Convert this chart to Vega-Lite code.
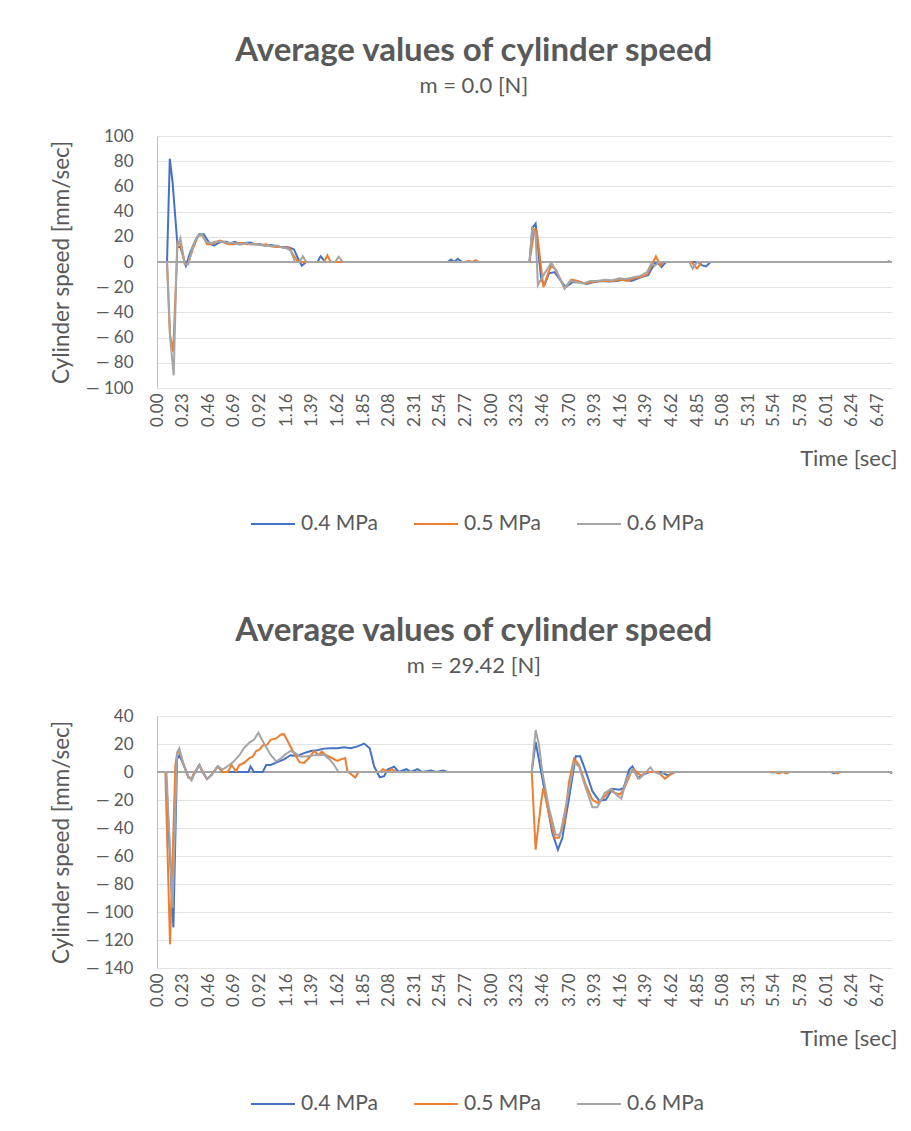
{
  "$schema": "https://vega.github.io/schema/vega-lite/v6.json",
  "background": "white",
  "padding": {"left": 50, "top": 35, "right": 14, "bottom": 0},
  "spacing": 81,
  "resolve": {"scale": {"color": "independent"}, "legend": {"color": "independent"}},
  "config": {
    "font": "Lato",
    "view": {"stroke": null},
    "axis": {"labelColor": "#595959", "titleColor": "#595959", "gridColor": "#e3e3e3", "labelFont": "Lato", "titleFont": "Lato", "titleFontWeight": "normal"},
    "axisY": {"labelOverlap": false},
    "legend": {"labelFont": "Lato"}
  },
  "datasets": {
    "p1": [
      {"s":"0.4 MPa","t":0,"v":0},{"s":"0.4 MPa","t":0.09,"v":0},{"s":"0.4 MPa","t":0.115,"v":82},{"s":"0.4 MPa","t":0.14,"v":63},{"s":"0.4 MPa","t":0.185,"v":12},{"s":"0.4 MPa","t":0.21,"v":12},{"s":"0.4 MPa","t":0.26,"v":-3},{"s":"0.4 MPa","t":0.3,"v":8},{"s":"0.4 MPa","t":0.35,"v":18},{"s":"0.4 MPa","t":0.38,"v":22},{"s":"0.4 MPa","t":0.42,"v":22},{"s":"0.4 MPa","t":0.47,"v":15},{"s":"0.4 MPa","t":0.51,"v":13},{"s":"0.4 MPa","t":0.55,"v":15},{"s":"0.4 MPa","t":0.58,"v":16},{"s":"0.4 MPa","t":0.62,"v":16},{"s":"0.4 MPa","t":0.66,"v":15},{"s":"0.4 MPa","t":0.7,"v":16},{"s":"0.4 MPa","t":0.74,"v":14},{"s":"0.4 MPa","t":0.79,"v":15},{"s":"0.4 MPa","t":0.84,"v":15.5},{"s":"0.4 MPa","t":0.88,"v":14},{"s":"0.4 MPa","t":0.93,"v":14},{"s":"0.4 MPa","t":0.97,"v":13},{"s":"0.4 MPa","t":1.02,"v":13.5},{"s":"0.4 MPa","t":1.06,"v":13},{"s":"0.4 MPa","t":1.1,"v":12},{"s":"0.4 MPa","t":1.15,"v":12},{"s":"0.4 MPa","t":1.19,"v":11.5},{"s":"0.4 MPa","t":1.23,"v":10},{"s":"0.4 MPa","t":1.26,"v":4},{"s":"0.4 MPa","t":1.3,"v":-3},{"s":"0.4 MPa","t":1.34,"v":0},{"s":"0.4 MPa","t":1.44,"v":0},{"s":"0.4 MPa","t":1.47,"v":4.5},{"s":"0.4 MPa","t":1.51,"v":0},{"s":"0.4 MPa","t":2.61,"v":0},{"s":"0.4 MPa","t":2.64,"v":2},{"s":"0.4 MPa","t":2.67,"v":0},{"s":"0.4 MPa","t":2.7,"v":2.5},{"s":"0.4 MPa","t":2.74,"v":0},{"s":"0.4 MPa","t":3.345,"v":0},{"s":"0.4 MPa","t":3.37,"v":27},{"s":"0.4 MPa","t":3.4,"v":30.5},{"s":"0.4 MPa","t":3.45,"v":-14},{"s":"0.4 MPa","t":3.48,"v":-18},{"s":"0.4 MPa","t":3.52,"v":-9},{"s":"0.4 MPa","t":3.57,"v":-8},{"s":"0.4 MPa","t":3.61,"v":-13},{"s":"0.4 MPa","t":3.67,"v":-20},{"s":"0.4 MPa","t":3.73,"v":-16},{"s":"0.4 MPa","t":3.8,"v":-16},{"s":"0.4 MPa","t":3.86,"v":-17.5},{"s":"0.4 MPa","t":3.92,"v":-16},{"s":"0.4 MPa","t":3.99,"v":-15},{"s":"0.4 MPa","t":4.06,"v":-15.5},{"s":"0.4 MPa","t":4.13,"v":-15},{"s":"0.4 MPa","t":4.19,"v":-14},{"s":"0.4 MPa","t":4.26,"v":-15},{"s":"0.4 MPa","t":4.35,"v":-12},{"s":"0.4 MPa","t":4.41,"v":-10.5},{"s":"0.4 MPa","t":4.47,"v":-1},{"s":"0.4 MPa","t":4.5,"v":-1},{"s":"0.4 MPa","t":4.53,"v":-4},{"s":"0.4 MPa","t":4.57,"v":0},{"s":"0.4 MPa","t":4.86,"v":0},{"s":"0.4 MPa","t":4.89,"v":-2.5},{"s":"0.4 MPa","t":4.93,"v":-3.5},{"s":"0.4 MPa","t":4.97,"v":0},{"s":"0.4 MPa","t":6.56,"v":0},{"s":"0.4 MPa","t":6.58,"v":0.8},

      {"s":"0.5 MPa","t":0,"v":0},{"s":"0.5 MPa","t":0.09,"v":0},{"s":"0.5 MPa","t":0.115,"v":-57},{"s":"0.5 MPa","t":0.145,"v":-71},{"s":"0.5 MPa","t":0.185,"v":16},{"s":"0.5 MPa","t":0.21,"v":14},{"s":"0.5 MPa","t":0.25,"v":-2},{"s":"0.5 MPa","t":0.28,"v":-1},{"s":"0.5 MPa","t":0.32,"v":10},{"s":"0.5 MPa","t":0.37,"v":21},{"s":"0.5 MPa","t":0.41,"v":21},{"s":"0.5 MPa","t":0.45,"v":14},{"s":"0.5 MPa","t":0.49,"v":14},{"s":"0.5 MPa","t":0.53,"v":16},{"s":"0.5 MPa","t":0.57,"v":17},{"s":"0.5 MPa","t":0.61,"v":15},{"s":"0.5 MPa","t":0.65,"v":14},{"s":"0.5 MPa","t":0.69,"v":14},{"s":"0.5 MPa","t":0.73,"v":15},{"s":"0.5 MPa","t":0.77,"v":15},{"s":"0.5 MPa","t":0.81,"v":14},{"s":"0.5 MPa","t":0.85,"v":14},{"s":"0.5 MPa","t":0.89,"v":14},{"s":"0.5 MPa","t":0.94,"v":13.5},{"s":"0.5 MPa","t":0.98,"v":14},{"s":"0.5 MPa","t":1.02,"v":12.5},{"s":"0.5 MPa","t":1.07,"v":12},{"s":"0.5 MPa","t":1.11,"v":12},{"s":"0.5 MPa","t":1.15,"v":11.5},{"s":"0.5 MPa","t":1.19,"v":11},{"s":"0.5 MPa","t":1.22,"v":6},{"s":"0.5 MPa","t":1.26,"v":1},{"s":"0.5 MPa","t":1.29,"v":0},{"s":"0.5 MPa","t":1.5,"v":0},{"s":"0.5 MPa","t":1.53,"v":5.3},{"s":"0.5 MPa","t":1.56,"v":0},{"s":"0.5 MPa","t":2.77,"v":0},{"s":"0.5 MPa","t":2.8,"v":1},{"s":"0.5 MPa","t":2.83,"v":0},{"s":"0.5 MPa","t":2.86,"v":1.5},{"s":"0.5 MPa","t":2.89,"v":0},{"s":"0.5 MPa","t":3.345,"v":0},{"s":"0.5 MPa","t":3.39,"v":26},{"s":"0.5 MPa","t":3.41,"v":25},{"s":"0.5 MPa","t":3.47,"v":-20},{"s":"0.5 MPa","t":3.5,"v":-12},{"s":"0.5 MPa","t":3.54,"v":-2.6},{"s":"0.5 MPa","t":3.58,"v":-6},{"s":"0.5 MPa","t":3.66,"v":-21},{"s":"0.5 MPa","t":3.72,"v":-14},{"s":"0.5 MPa","t":3.78,"v":-15},{"s":"0.5 MPa","t":3.84,"v":-17},{"s":"0.5 MPa","t":3.9,"v":-16},{"s":"0.5 MPa","t":3.96,"v":-15},{"s":"0.5 MPa","t":4.03,"v":-15},{"s":"0.5 MPa","t":4.1,"v":-15},{"s":"0.5 MPa","t":4.16,"v":-14},{"s":"0.5 MPa","t":4.22,"v":-15},{"s":"0.5 MPa","t":4.28,"v":-13},{"s":"0.5 MPa","t":4.34,"v":-12},{"s":"0.5 MPa","t":4.4,"v":-10},{"s":"0.5 MPa","t":4.445,"v":-2},{"s":"0.5 MPa","t":4.48,"v":4.5},{"s":"0.5 MPa","t":4.52,"v":-2.6},{"s":"0.5 MPa","t":4.55,"v":0},{"s":"0.5 MPa","t":4.8,"v":0},{"s":"0.5 MPa","t":4.85,"v":-5.3},{"s":"0.5 MPa","t":4.89,"v":0},{"s":"0.5 MPa","t":6.6,"v":0},

      {"s":"0.6 MPa","t":0,"v":0},{"s":"0.6 MPa","t":0.09,"v":0},{"s":"0.6 MPa","t":0.12,"v":-62},{"s":"0.6 MPa","t":0.15,"v":-90},{"s":"0.6 MPa","t":0.18,"v":12},{"s":"0.6 MPa","t":0.21,"v":19},{"s":"0.6 MPa","t":0.25,"v":-2},{"s":"0.6 MPa","t":0.28,"v":-2},{"s":"0.6 MPa","t":0.32,"v":12},{"s":"0.6 MPa","t":0.36,"v":20},{"s":"0.6 MPa","t":0.4,"v":22},{"s":"0.6 MPa","t":0.44,"v":16},{"s":"0.6 MPa","t":0.48,"v":15},{"s":"0.6 MPa","t":0.52,"v":16},{"s":"0.6 MPa","t":0.56,"v":16},{"s":"0.6 MPa","t":0.6,"v":16},{"s":"0.6 MPa","t":0.64,"v":15},{"s":"0.6 MPa","t":0.68,"v":15},{"s":"0.6 MPa","t":0.72,"v":14.5},{"s":"0.6 MPa","t":0.76,"v":14},{"s":"0.6 MPa","t":0.8,"v":15},{"s":"0.6 MPa","t":0.84,"v":14},{"s":"0.6 MPa","t":0.88,"v":14},{"s":"0.6 MPa","t":0.92,"v":13.5},{"s":"0.6 MPa","t":0.96,"v":13},{"s":"0.6 MPa","t":1.0,"v":13},{"s":"0.6 MPa","t":1.04,"v":12.5},{"s":"0.6 MPa","t":1.08,"v":13},{"s":"0.6 MPa","t":1.12,"v":11.5},{"s":"0.6 MPa","t":1.16,"v":11},{"s":"0.6 MPa","t":1.2,"v":9},{"s":"0.6 MPa","t":1.24,"v":0},{"s":"0.6 MPa","t":1.28,"v":0},{"s":"0.6 MPa","t":1.31,"v":4.5},{"s":"0.6 MPa","t":1.34,"v":0},{"s":"0.6 MPa","t":1.6,"v":0},{"s":"0.6 MPa","t":1.63,"v":4},{"s":"0.6 MPa","t":1.67,"v":0},{"s":"0.6 MPa","t":3.345,"v":0},{"s":"0.6 MPa","t":3.37,"v":26.6},{"s":"0.6 MPa","t":3.4,"v":22},{"s":"0.6 MPa","t":3.42,"v":-18.5},{"s":"0.6 MPa","t":3.46,"v":-12},{"s":"0.6 MPa","t":3.54,"v":-0.5},{"s":"0.6 MPa","t":3.59,"v":-8},{"s":"0.6 MPa","t":3.66,"v":-21},{"s":"0.6 MPa","t":3.71,"v":-15},{"s":"0.6 MPa","t":3.77,"v":-16},{"s":"0.6 MPa","t":3.83,"v":-17},{"s":"0.6 MPa","t":3.89,"v":-15},{"s":"0.6 MPa","t":3.95,"v":-15},{"s":"0.6 MPa","t":4.02,"v":-14},{"s":"0.6 MPa","t":4.09,"v":-14.5},{"s":"0.6 MPa","t":4.15,"v":-13},{"s":"0.6 MPa","t":4.21,"v":-13.5},{"s":"0.6 MPa","t":4.28,"v":-12},{"s":"0.6 MPa","t":4.34,"v":-11},{"s":"0.6 MPa","t":4.4,"v":-8},{"s":"0.6 MPa","t":4.44,"v":-1},{"s":"0.6 MPa","t":4.47,"v":-3},{"s":"0.6 MPa","t":4.51,"v":0},{"s":"0.6 MPa","t":4.78,"v":0},{"s":"0.6 MPa","t":4.81,"v":-5.3},{"s":"0.6 MPa","t":4.85,"v":0},{"s":"0.6 MPa","t":6.6,"v":0}
    ],
    "p2": [
      {"s":"0.4 MPa","t":0,"v":0},{"s":"0.4 MPa","t":0.08,"v":0},{"s":"0.4 MPa","t":0.147,"v":-111},{"s":"0.4 MPa","t":0.18,"v":9},{"s":"0.4 MPa","t":0.2,"v":12},{"s":"0.4 MPa","t":0.24,"v":5},{"s":"0.4 MPa","t":0.28,"v":-3},{"s":"0.4 MPa","t":0.31,"v":-5.5},{"s":"0.4 MPa","t":0.33,"v":-2},{"s":"0.4 MPa","t":0.38,"v":5},{"s":"0.4 MPa","t":0.41,"v":0},{"s":"0.4 MPa","t":0.45,"v":-5},{"s":"0.4 MPa","t":0.49,"v":-2},{"s":"0.4 MPa","t":0.545,"v":4},{"s":"0.4 MPa","t":0.59,"v":0},{"s":"0.4 MPa","t":0.82,"v":0},{"s":"0.4 MPa","t":0.84,"v":4},{"s":"0.4 MPa","t":0.87,"v":0},{"s":"0.4 MPa","t":0.95,"v":0},{"s":"0.4 MPa","t":0.98,"v":5},{"s":"0.4 MPa","t":1.02,"v":5},{"s":"0.4 MPa","t":1.08,"v":7},{"s":"0.4 MPa","t":1.14,"v":9},{"s":"0.4 MPa","t":1.2,"v":12},{"s":"0.4 MPa","t":1.26,"v":11.5},{"s":"0.4 MPa","t":1.32,"v":13.5},{"s":"0.4 MPa","t":1.38,"v":15},{"s":"0.4 MPa","t":1.44,"v":15.5},{"s":"0.4 MPa","t":1.5,"v":16.7},{"s":"0.4 MPa","t":1.56,"v":17},{"s":"0.4 MPa","t":1.62,"v":17},{"s":"0.4 MPa","t":1.68,"v":17.6},{"s":"0.4 MPa","t":1.74,"v":17},{"s":"0.4 MPa","t":1.8,"v":18.3},{"s":"0.4 MPa","t":1.86,"v":20.3},{"s":"0.4 MPa","t":1.91,"v":17},{"s":"0.4 MPa","t":1.95,"v":4},{"s":"0.4 MPa","t":2.0,"v":-3.8},{"s":"0.4 MPa","t":2.04,"v":-3},{"s":"0.4 MPa","t":2.07,"v":1.7},{"s":"0.4 MPa","t":2.13,"v":3.8},{"s":"0.4 MPa","t":2.17,"v":0},{"s":"0.4 MPa","t":2.24,"v":2},{"s":"0.4 MPa","t":2.28,"v":0},{"s":"0.4 MPa","t":2.34,"v":2},{"s":"0.4 MPa","t":2.38,"v":0},{"s":"0.4 MPa","t":2.46,"v":1},{"s":"0.4 MPa","t":2.51,"v":0},{"s":"0.4 MPa","t":2.57,"v":1},{"s":"0.4 MPa","t":2.61,"v":0},{"s":"0.4 MPa","t":3.365,"v":0},{"s":"0.4 MPa","t":3.4,"v":21.4},{"s":"0.4 MPa","t":3.45,"v":0},{"s":"0.4 MPa","t":3.51,"v":-25.7},{"s":"0.4 MPa","t":3.55,"v":-43.6},{"s":"0.4 MPa","t":3.6,"v":-55.5},{"s":"0.4 MPa","t":3.64,"v":-47},{"s":"0.4 MPa","t":3.7,"v":-18.6},{"s":"0.4 MPa","t":3.76,"v":11.2},{"s":"0.4 MPa","t":3.8,"v":11.2},{"s":"0.4 MPa","t":3.85,"v":0.5},{"s":"0.4 MPa","t":3.91,"v":-13.8},{"s":"0.4 MPa","t":3.97,"v":-20.5},{"s":"0.4 MPa","t":4.03,"v":-19.8},{"s":"0.4 MPa","t":4.09,"v":-12},{"s":"0.4 MPa","t":4.15,"v":-12.6},{"s":"0.4 MPa","t":4.19,"v":-11.5},{"s":"0.4 MPa","t":4.24,"v":1.7},{"s":"0.4 MPa","t":4.27,"v":4},{"s":"0.4 MPa","t":4.32,"v":-4.3},{"s":"0.4 MPa","t":4.36,"v":-2},{"s":"0.4 MPa","t":4.42,"v":0},{"s":"0.4 MPa","t":4.52,"v":0},{"s":"0.4 MPa","t":4.59,"v":-2.4},{"s":"0.4 MPa","t":4.65,"v":0},{"s":"0.4 MPa","t":6.05,"v":0},{"s":"0.4 MPa","t":6.08,"v":-0.8},{"s":"0.4 MPa","t":6.11,"v":0},{"s":"0.4 MPa","t":6.58,"v":0},{"s":"0.4 MPa","t":6.6,"v":-1},

      {"s":"0.5 MPa","t":0,"v":0},{"s":"0.5 MPa","t":0.075,"v":0},{"s":"0.5 MPa","t":0.117,"v":-123},{"s":"0.5 MPa","t":0.165,"v":5},{"s":"0.5 MPa","t":0.18,"v":13},{"s":"0.5 MPa","t":0.2,"v":15},{"s":"0.5 MPa","t":0.24,"v":5},{"s":"0.5 MPa","t":0.28,"v":-4},{"s":"0.5 MPa","t":0.31,"v":-5},{"s":"0.5 MPa","t":0.33,"v":-1},{"s":"0.5 MPa","t":0.38,"v":5},{"s":"0.5 MPa","t":0.41,"v":0},{"s":"0.5 MPa","t":0.45,"v":-5},{"s":"0.5 MPa","t":0.49,"v":-2},{"s":"0.5 MPa","t":0.545,"v":4},{"s":"0.5 MPa","t":0.59,"v":0},{"s":"0.5 MPa","t":0.635,"v":0},{"s":"0.5 MPa","t":0.67,"v":5},{"s":"0.5 MPa","t":0.71,"v":0.5},{"s":"0.5 MPa","t":0.74,"v":5},{"s":"0.5 MPa","t":0.78,"v":6.4},{"s":"0.5 MPa","t":0.83,"v":10},{"s":"0.5 MPa","t":0.86,"v":11},{"s":"0.5 MPa","t":0.89,"v":15},{"s":"0.5 MPa","t":0.92,"v":16},{"s":"0.5 MPa","t":0.95,"v":19},{"s":"0.5 MPa","t":0.99,"v":19.5},{"s":"0.5 MPa","t":1.02,"v":23},{"s":"0.5 MPa","t":1.07,"v":24},{"s":"0.5 MPa","t":1.11,"v":26.7},{"s":"0.5 MPa","t":1.14,"v":27},{"s":"0.5 MPa","t":1.22,"v":15},{"s":"0.5 MPa","t":1.28,"v":7},{"s":"0.5 MPa","t":1.32,"v":6.4},{"s":"0.5 MPa","t":1.37,"v":10.5},{"s":"0.5 MPa","t":1.41,"v":15},{"s":"0.5 MPa","t":1.45,"v":12},{"s":"0.5 MPa","t":1.48,"v":14.5},{"s":"0.5 MPa","t":1.52,"v":12},{"s":"0.5 MPa","t":1.57,"v":10},{"s":"0.5 MPa","t":1.62,"v":8},{"s":"0.5 MPa","t":1.65,"v":9},{"s":"0.5 MPa","t":1.69,"v":10},{"s":"0.5 MPa","t":1.71,"v":0.5},{"s":"0.5 MPa","t":1.78,"v":-4},{"s":"0.5 MPa","t":1.81,"v":0},{"s":"0.5 MPa","t":2.0,"v":0},{"s":"0.5 MPa","t":2.03,"v":2},{"s":"0.5 MPa","t":2.07,"v":0.5},{"s":"0.5 MPa","t":2.11,"v":2},{"s":"0.5 MPa","t":2.15,"v":0},{"s":"0.5 MPa","t":3.365,"v":0},{"s":"0.5 MPa","t":3.4,"v":-55.5},{"s":"0.5 MPa","t":3.45,"v":-21},{"s":"0.5 MPa","t":3.47,"v":-11.4},{"s":"0.5 MPa","t":3.52,"v":-30},{"s":"0.5 MPa","t":3.57,"v":-47},{"s":"0.5 MPa","t":3.61,"v":-47},{"s":"0.5 MPa","t":3.66,"v":-35},{"s":"0.5 MPa","t":3.7,"v":-6.7},{"s":"0.5 MPa","t":3.745,"v":9.5},{"s":"0.5 MPa","t":3.79,"v":5},{"s":"0.5 MPa","t":3.85,"v":-9},{"s":"0.5 MPa","t":3.91,"v":-19.8},{"s":"0.5 MPa","t":3.955,"v":-22},{"s":"0.5 MPa","t":4.01,"v":-18.6},{"s":"0.5 MPa","t":4.07,"v":-12.6},{"s":"0.5 MPa","t":4.11,"v":-15},{"s":"0.5 MPa","t":4.16,"v":-16},{"s":"0.5 MPa","t":4.2,"v":-11},{"s":"0.5 MPa","t":4.26,"v":0.5},{"s":"0.5 MPa","t":4.28,"v":2},{"s":"0.5 MPa","t":4.35,"v":-3},{"s":"0.5 MPa","t":4.39,"v":0},{"s":"0.5 MPa","t":4.5,"v":0},{"s":"0.5 MPa","t":4.56,"v":-4.8},{"s":"0.5 MPa","t":4.6,"v":-2.4},{"s":"0.5 MPa","t":4.65,"v":0},{"s":"0.5 MPa","t":5.55,"v":0},{"s":"0.5 MPa","t":5.58,"v":-1},{"s":"0.5 MPa","t":5.62,"v":0},{"s":"0.5 MPa","t":5.65,"v":-1},{"s":"0.5 MPa","t":5.68,"v":0},{"s":"0.5 MPa","t":6.08,"v":0},{"s":"0.5 MPa","t":6.11,"v":-1},{"s":"0.5 MPa","t":6.14,"v":0},{"s":"0.5 MPa","t":6.58,"v":0},{"s":"0.5 MPa","t":6.6,"v":-0.5},

      {"s":"0.6 MPa","t":0,"v":0},{"s":"0.6 MPa","t":0.085,"v":0},{"s":"0.6 MPa","t":0.14,"v":-97},{"s":"0.6 MPa","t":0.18,"v":14},{"s":"0.6 MPa","t":0.2,"v":17},{"s":"0.6 MPa","t":0.24,"v":5},{"s":"0.6 MPa","t":0.28,"v":-3},{"s":"0.6 MPa","t":0.31,"v":-6},{"s":"0.6 MPa","t":0.33,"v":-2},{"s":"0.6 MPa","t":0.38,"v":5},{"s":"0.6 MPa","t":0.41,"v":0},{"s":"0.6 MPa","t":0.45,"v":-5},{"s":"0.6 MPa","t":0.49,"v":-2},{"s":"0.6 MPa","t":0.545,"v":4},{"s":"0.6 MPa","t":0.59,"v":1.7},{"s":"0.6 MPa","t":0.65,"v":5},{"s":"0.6 MPa","t":0.69,"v":7.6},{"s":"0.6 MPa","t":0.74,"v":12},{"s":"0.6 MPa","t":0.78,"v":17},{"s":"0.6 MPa","t":0.83,"v":21},{"s":"0.6 MPa","t":0.87,"v":23},{"s":"0.6 MPa","t":0.91,"v":28},{"s":"0.6 MPa","t":0.96,"v":20.6},{"s":"0.6 MPa","t":1.02,"v":12.4},{"s":"0.6 MPa","t":1.07,"v":7.6},{"s":"0.6 MPa","t":1.11,"v":9.5},{"s":"0.6 MPa","t":1.15,"v":12.4},{"s":"0.6 MPa","t":1.2,"v":15},{"s":"0.6 MPa","t":1.24,"v":13.6},{"s":"0.6 MPa","t":1.28,"v":11},{"s":"0.6 MPa","t":1.34,"v":11},{"s":"0.6 MPa","t":1.41,"v":12},{"s":"0.6 MPa","t":1.5,"v":12.4},{"s":"0.6 MPa","t":1.55,"v":9},{"s":"0.6 MPa","t":1.59,"v":5},{"s":"0.6 MPa","t":1.63,"v":0},{"s":"0.6 MPa","t":3.365,"v":0},{"s":"0.6 MPa","t":3.4,"v":30},{"s":"0.6 MPa","t":3.43,"v":19.5},{"s":"0.6 MPa","t":3.46,"v":0},{"s":"0.6 MPa","t":3.52,"v":-25.7},{"s":"0.6 MPa","t":3.58,"v":-44.8},{"s":"0.6 MPa","t":3.62,"v":-44.8},{"s":"0.6 MPa","t":3.68,"v":-21},{"s":"0.6 MPa","t":3.745,"v":7},{"s":"0.6 MPa","t":3.79,"v":4},{"s":"0.6 MPa","t":3.85,"v":-11.4},{"s":"0.6 MPa","t":3.91,"v":-25.2},{"s":"0.6 MPa","t":3.955,"v":-25.2},{"s":"0.6 MPa","t":4.02,"v":-15},{"s":"0.6 MPa","t":4.08,"v":-12},{"s":"0.6 MPa","t":4.125,"v":-16.2},{"s":"0.6 MPa","t":4.17,"v":-19},{"s":"0.6 MPa","t":4.22,"v":-4.3},{"s":"0.6 MPa","t":4.27,"v":1.7},{"s":"0.6 MPa","t":4.33,"v":-4.8},{"s":"0.6 MPa","t":4.37,"v":-2},{"s":"0.6 MPa","t":4.43,"v":3.4},{"s":"0.6 MPa","t":4.46,"v":0},{"s":"0.6 MPa","t":4.52,"v":-1.5},{"s":"0.6 MPa","t":4.56,"v":0},{"s":"0.6 MPa","t":5.5,"v":0},{"s":"0.6 MPa","t":5.53,"v":-0.5},{"s":"0.6 MPa","t":5.56,"v":0},{"s":"0.6 MPa","t":6.6,"v":0}
    ]
  },
  "vconcat": [
    {
      "title": {"text": "Average values of cylinder speed", "subtitle": "m = 0.0 [N]", "anchor": "middle", "frame": "bounds", "font": "Lato", "fontSize": 33, "fontWeight": "bold", "color": "#595959", "subtitleFont": "Lato", "subtitleFontSize": 22, "subtitleColor": "#595959", "subtitlePadding": 8, "offset": 30},
      "width": 735,
      "height": 252,
      "data": {"name": "p1"},
      "layer": [
        {"mark": {"type": "rule", "color": "#a6a6a6", "strokeWidth": 1.5}, "encoding": {"y": {"datum": 0, "type": "quantitative", "scale": {"domain": [-100, 100], "nice": false},
              "axis": {"values": [-100,-80,-60,-40,-20,0,20,40,60,80,100], "labelExpr": "datum.value < 0 ? '— ' + (-datum.value) : '' + datum.value", "labelOverlap": false, "labelFontSize": 17, "labelPadding": 24, "ticks": false, "domain": true, "domainColor": "#bfbfbf", "grid": true, "title": "Cylinder speed [mm/sec]", "titleFontSize": 22.5, "titlePadding": 12}}}},
        {
          "mark": {"type": "line", "strokeWidth": 2},
          "encoding": {
            "x": {"field": "t", "type": "quantitative", "scale": {"domain": [0, 6.6], "nice": false},
              "axis": {"values": [0,0.23,0.46,0.69,0.92,1.16,1.39,1.62,1.85,2.08,2.31,2.54,2.77,3.0,3.23,3.46,3.7,3.93,4.16,4.39,4.62,4.85,5.08,5.31,5.54,5.78,6.01,6.24,6.47], "format": ".2f", "labelAngle": -90, "labelFontSize": 17, "labelPadding": 5, "ticks": false, "domain": false, "grid": false, "labelOverlap": false, "title": "Time [sec]", "titleFontSize": 22, "titleX": 740, "titleY": 70, "titleAlign": "right", "titleBaseline": "middle", "titleAnchor": null}},
            "y": {"field": "v", "type": "quantitative", "scale": {"domain": [-100, 100], "nice": false},
              "axis": {"values": [-100,-80,-60,-40,-20,0,20,40,60,80,100], "labelExpr": "datum.value < 0 ? '— ' + (-datum.value) : '' + datum.value", "labelOverlap": false, "labelFontSize": 17, "labelPadding": 24, "ticks": false, "domain": true, "domainColor": "#bfbfbf", "grid": true, "title": "Cylinder speed [mm/sec]", "titleFontSize": 22.5, "titlePadding": 12}},
            "color": {"field": "s", "type": "nominal", "scale": {"domain": ["0.4 MPa", "0.5 MPa", "0.6 MPa"], "range": ["#4472C4", "#ED7D31", "#A5A5A5"]},
              "legend": {"orient": "none", "legendX": 93, "legendY": 365, "direction": "horizontal", "title": null, "symbolType": "stroke", "symbolSize": 1936, "symbolStrokeWidth": 2, "labelFontSize": 21, "labelColor": "#595959", "columnPadding": 32, "labelOffset": 5}}
          }
        }
      ]
    },
    {
      "title": {"text": "Average values of cylinder speed", "subtitle": "m = 29.42 [N]", "anchor": "middle", "frame": "bounds", "font": "Lato", "fontSize": 33, "fontWeight": "bold", "color": "#595959", "subtitleFont": "Lato", "subtitleFontSize": 22, "subtitleColor": "#595959", "subtitlePadding": 8, "offset": 30},
      "width": 735,
      "height": 252,
      "data": {"name": "p2"},
      "layer": [
        {"mark": {"type": "rule", "color": "#a6a6a6", "strokeWidth": 1.5}, "encoding": {"y": {"datum": 0, "type": "quantitative", "scale": {"domain": [-140, 40], "nice": false},
              "axis": {"values": [-140,-120,-100,-80,-60,-40,-20,0,20,40], "labelExpr": "datum.value < 0 ? '— ' + (-datum.value) : '' + datum.value", "labelOverlap": false, "labelFontSize": 17, "labelPadding": 24, "ticks": false, "domain": true, "domainColor": "#bfbfbf", "grid": true, "title": "Cylinder speed [mm/sec]", "titleFontSize": 22.5, "titlePadding": 12}}}},
        {
          "mark": {"type": "line", "strokeWidth": 2},
          "encoding": {
            "x": {"field": "t", "type": "quantitative", "scale": {"domain": [0, 6.6], "nice": false},
              "axis": {"values": [0,0.23,0.46,0.69,0.92,1.16,1.39,1.62,1.85,2.08,2.31,2.54,2.77,3.0,3.23,3.46,3.7,3.93,4.16,4.39,4.62,4.85,5.08,5.31,5.54,5.78,6.01,6.24,6.47], "format": ".2f", "labelAngle": -90, "labelFontSize": 17, "labelPadding": 5, "ticks": false, "domain": false, "grid": false, "labelOverlap": false, "title": "Time [sec]", "titleFontSize": 22, "titleX": 740, "titleY": 70, "titleAlign": "right", "titleBaseline": "middle", "titleAnchor": null}},
            "y": {"field": "v", "type": "quantitative", "scale": {"domain": [-140, 40], "nice": false},
              "axis": {"values": [-140,-120,-100,-80,-60,-40,-20,0,20,40], "labelExpr": "datum.value < 0 ? '— ' + (-datum.value) : '' + datum.value", "labelOverlap": false, "labelFontSize": 17, "labelPadding": 24, "ticks": false, "domain": true, "domainColor": "#bfbfbf", "grid": true, "title": "Cylinder speed [mm/sec]", "titleFontSize": 22.5, "titlePadding": 12}},
            "color": {"field": "s", "type": "nominal", "scale": {"domain": ["0.4 MPa", "0.5 MPa", "0.6 MPa"], "range": ["#4472C4", "#ED7D31", "#A5A5A5"]},
              "legend": {"orient": "none", "legendX": 93, "legendY": 365, "direction": "horizontal", "title": null, "symbolType": "stroke", "symbolSize": 1936, "symbolStrokeWidth": 2, "labelFontSize": 21, "labelColor": "#595959", "columnPadding": 32, "labelOffset": 5}}
          }
        }
      ]
    }
  ]
}
